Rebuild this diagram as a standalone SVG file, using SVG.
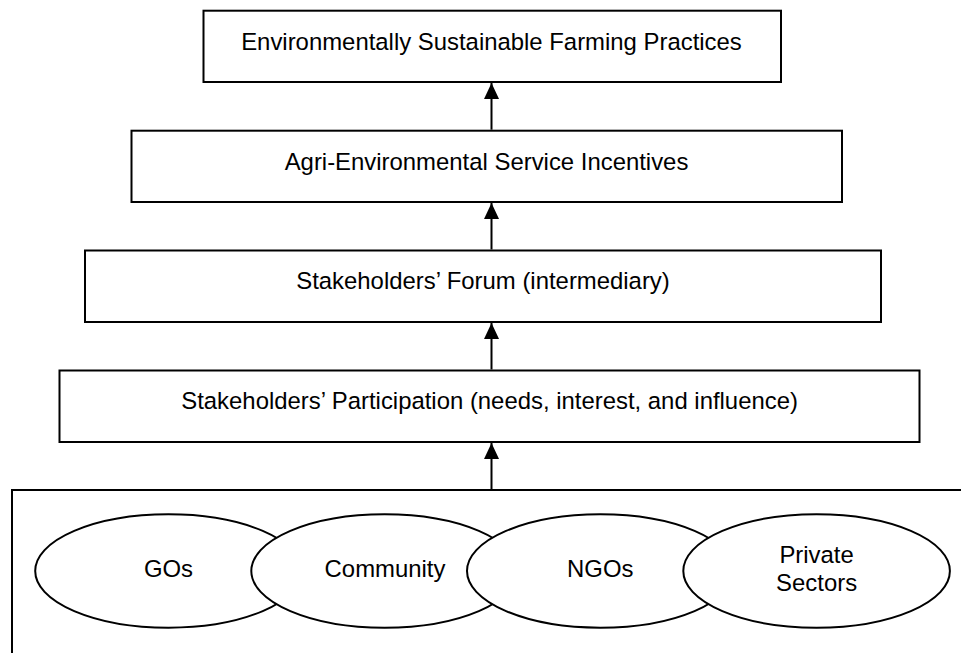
<svg xmlns="http://www.w3.org/2000/svg" width="961" height="653" viewBox="0 0 961 653">
<defs>
<style>
.box{fill:#fff;stroke:#000;stroke-width:2}
.ell{fill:#fff;stroke:#000;stroke-width:2}
.lbl{font-family:"Liberation Sans",Arial,sans-serif;font-size:23.9px;fill:#000;text-anchor:middle}
.conn{stroke:#000;stroke-width:2;fill:none;marker-end:url(#ah)}
</style>
<marker id="ah" markerWidth="16" markerHeight="16" refX="16" refY="7.5" orient="auto" markerUnits="userSpaceOnUse">
<path d="M0,0 L16,7.5 L0,15 Z" fill="#000"/>
</marker>
</defs>
<rect width="961" height="653" fill="#fff"/>
<g id="stakeholders-group">
<rect class="box" x="12" y="490" width="960" height="200"/>
</g>
<g id="node-gos"><ellipse class="ell" cx="168.5" cy="571" rx="133.3" ry="56.7"/><text class="lbl" x="168.5" y="577">GOs</text></g>
<g id="node-community"><ellipse class="ell" cx="384.6" cy="571" rx="133.3" ry="56.7"/><text class="lbl" x="385" y="577">Community</text></g>
<g id="node-ngos"><ellipse class="ell" cx="600.3" cy="571" rx="133.3" ry="56.7"/><text class="lbl" x="600.3" y="577">NGOs</text></g>
<g id="node-private"><ellipse class="ell" cx="816.6" cy="571" rx="133.3" ry="56.7"/><text class="lbl" x="816.6" y="563">Private</text><text class="lbl" x="816.6" y="591">Sectors</text></g>
<g id="node-participation"><rect class="box" x="59.5" y="370.5" width="860" height="71.5"/><text class="lbl" x="489.6" y="409">Stakeholders’ Participation (needs, interest, and influence)</text></g>
<g id="node-forum"><rect class="box" x="85" y="250.5" width="796" height="71.5"/><text class="lbl" x="483" y="289">Stakeholders’ Forum (intermediary)</text></g>
<g id="node-incentives"><rect class="box" x="131.5" y="130.7" width="710.5" height="71.3"/><text class="lbl" x="486.5" y="170">Agri-Environmental Service Incentives</text></g>
<g id="node-practices"><rect class="box" x="203.5" y="10.7" width="577.5" height="71.3"/><text class="lbl" x="491.5" y="50">Environmentally Sustainable Farming Practices</text></g>
<g id="connectors">
<line class="conn" x1="491.5" y1="489" x2="491.5" y2="443"/>
<line class="conn" x1="491.5" y1="369.5" x2="491.5" y2="323"/>
<line class="conn" x1="491.5" y1="249.5" x2="491.5" y2="203"/>
<line class="conn" x1="491.5" y1="129.7" x2="491.5" y2="83"/>
</g>
</svg>
